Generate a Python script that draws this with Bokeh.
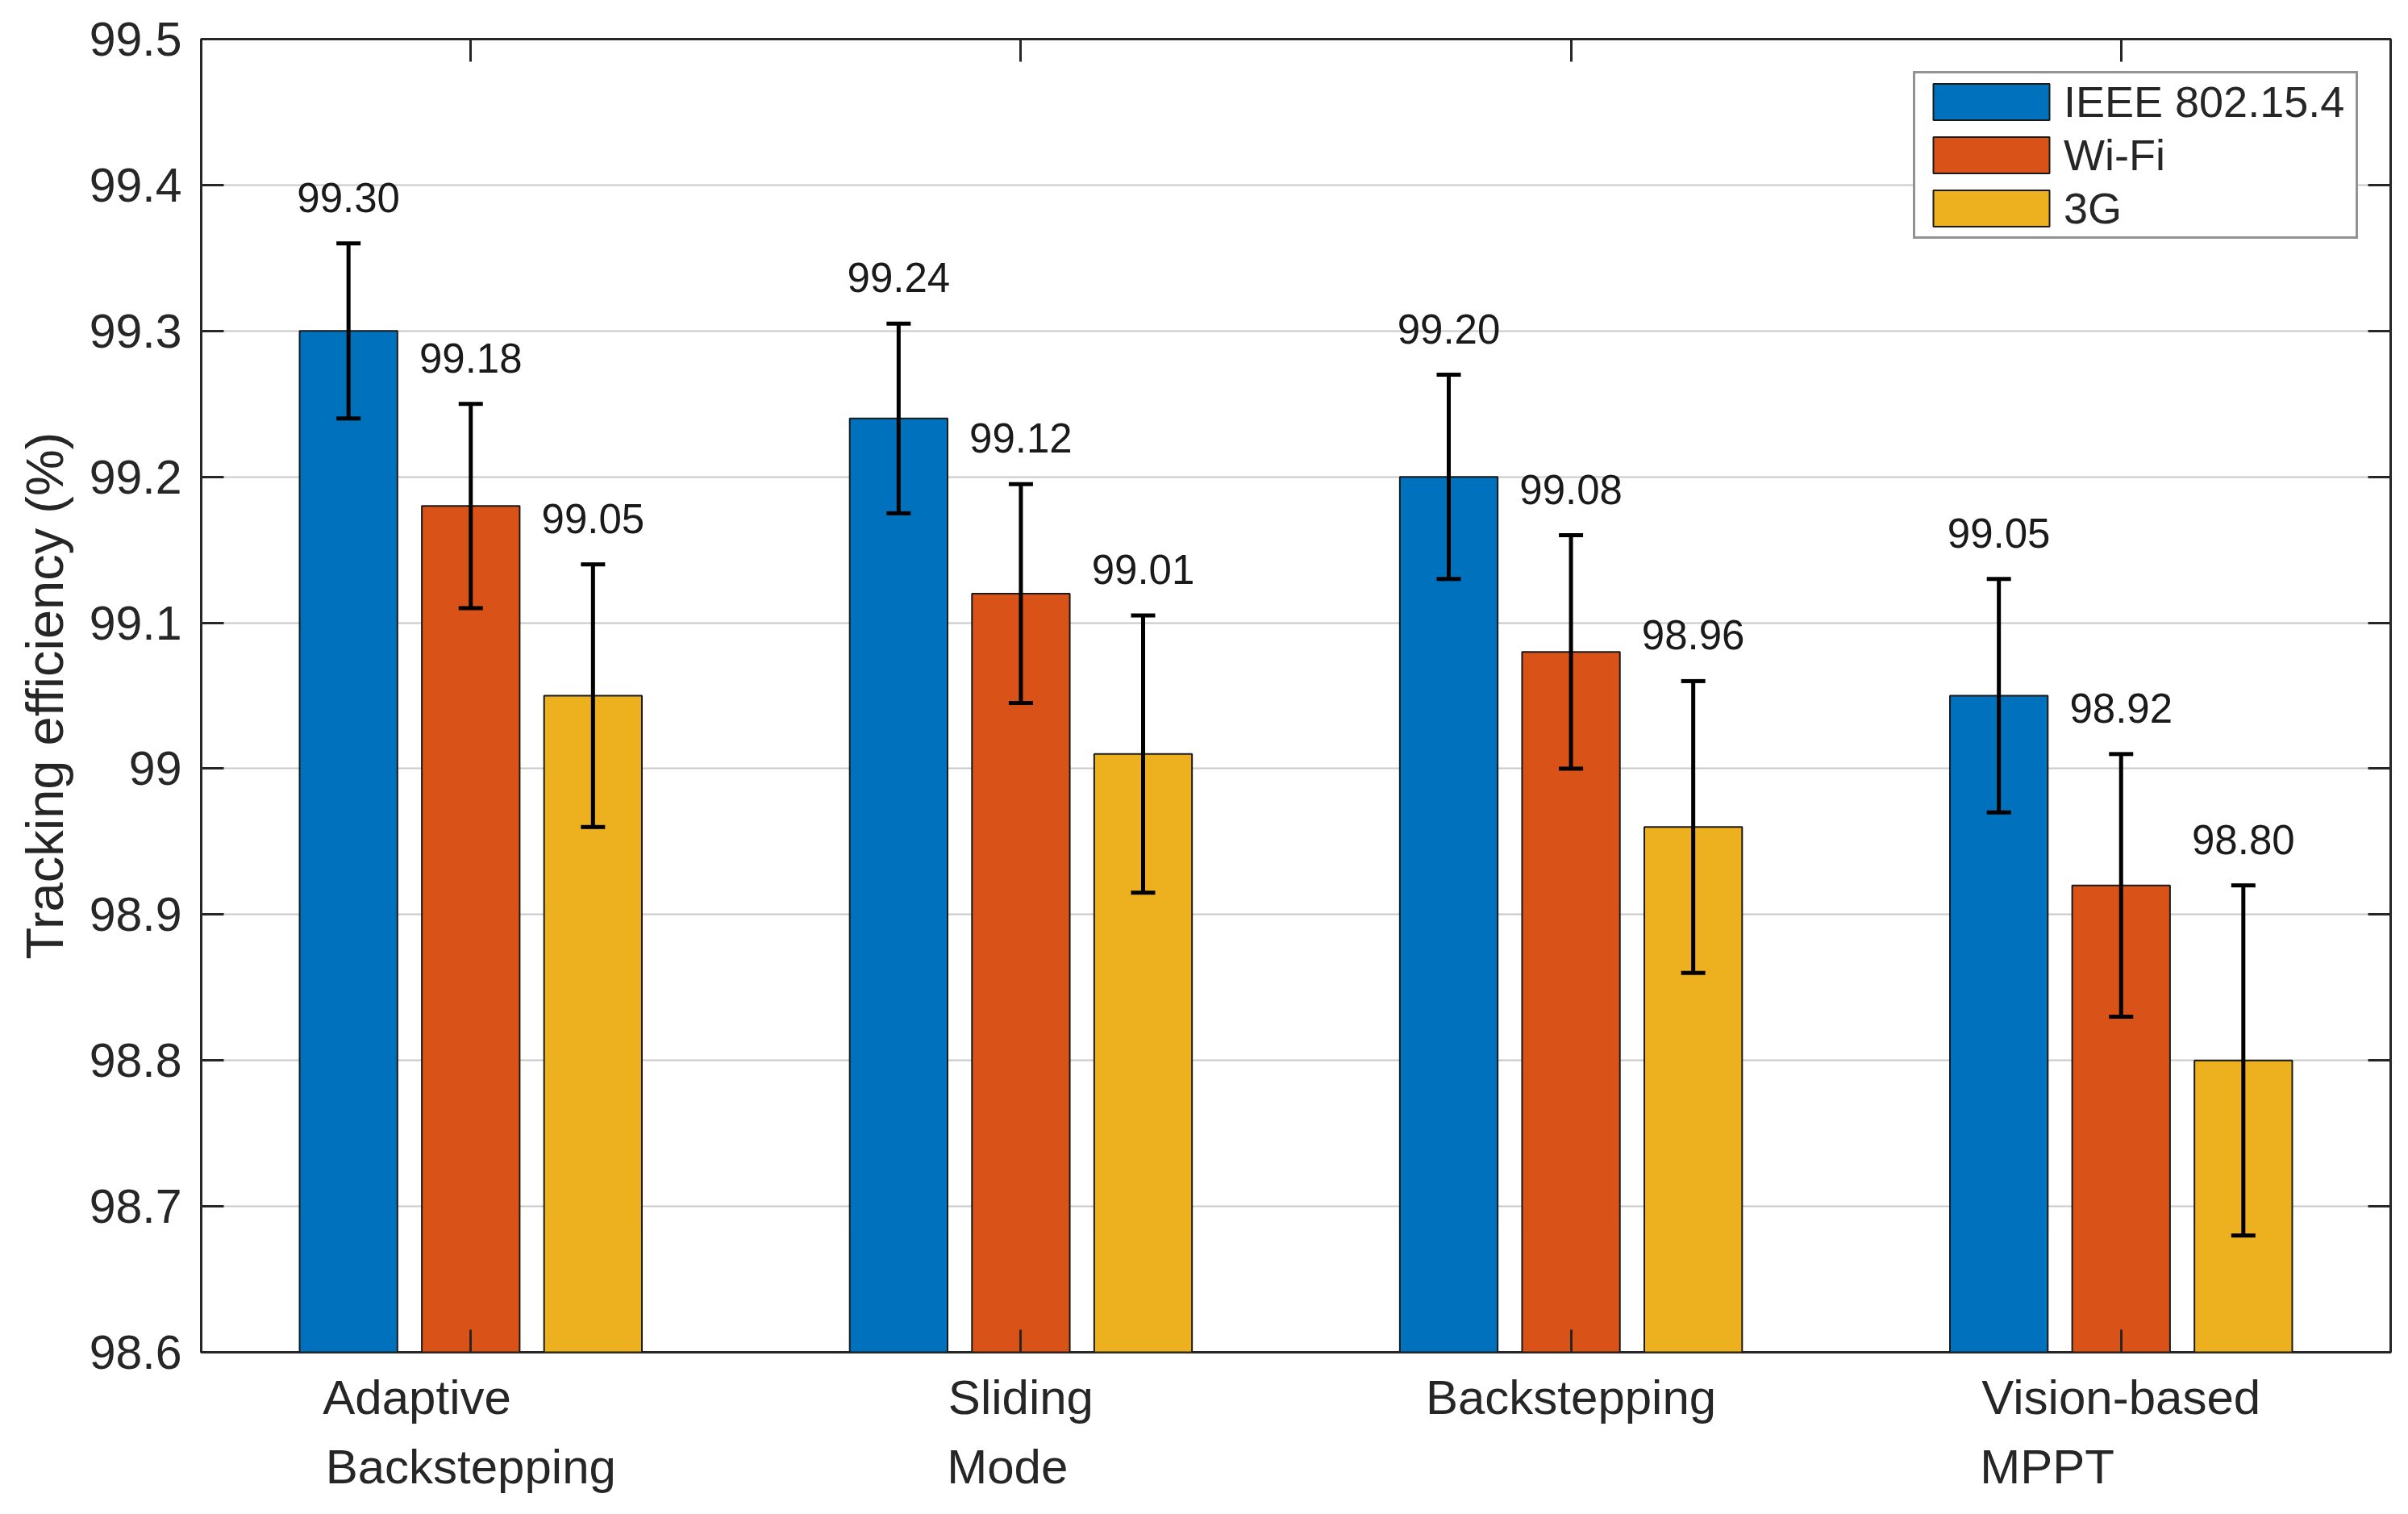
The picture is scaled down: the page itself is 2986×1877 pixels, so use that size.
import numpy as np
from bokeh.plotting import figure
from bokeh.models import (ColumnDataSource, Range1d, FixedTicker, LinearAxis,
                          Whisker, TeeHead, LabelSet)
from bokeh.core.properties import value
from bokeh.embed import file_html
from bokeh.resources import INLINE

# ---------------- data ----------------
CATEGORIES = ["Adaptive\nBackstepping", "Sliding\nMode", "Backstepping", "Vision-based\nMPPT"]
SERIES = ["IEEE 802.15.4", "Wi-Fi", "3G"]
IEEE = [99.30, 99.24, 99.20, 99.05]
WIFI = [99.18, 99.12, 99.08, 98.92]
G3 = [99.05, 99.01, 98.96, 98.80]
IEEE_ERR = [0.06, 0.065, 0.07, 0.08]
WIFI_ERR = [0.07, 0.075, 0.08, 0.09]
G3_ERR = [0.09, 0.095, 0.10, 0.12]
YTICKS = [98.6, 98.7, 98.8, 98.9, 99.0, 99.1, 99.2, 99.3, 99.4, 99.5]
YTICK_LABELS = ["98.6", "98.7", "98.8", "98.9", "99", "99.1", "99.2", "99.3", "99.4", "99.5"]

# ---------------- style ----------------
COLORS = ["#0072BD", "#D95319", "#EDB120"]
FONT = value("Liberation Sans")
AX_COLOR = "#262626"
BAR_WIDTH = 0.1778
BAR_OFFSETS = [-0.2222, 0.0, 0.2222]
# no-break spaces appended to the shorter line so that lines look left aligned
PAD_NBSP = [8, 2, 0, 11]

YMIN, YMAX = YTICKS[0], YTICKS[-1]
group_pos = np.arange(1, len(CATEGORIES) + 1)


def left_block(label, pad):
    ls = label.split("\n")
    if len(ls) < 2:
        return label
    i_short = 0 if len(ls[0]) < len(ls[1]) else 1
    ls[i_short] = ls[i_short] + "\u00a0" * pad
    return "\n".join(ls)


p = figure(width=2984, height=1875,
           x_range=Range1d(0.51, 4.49), y_range=Range1d(YMIN, YMAX),
           output_backend="svg", toolbar_location=None,
           min_border_left=249, min_border_right=20,
           min_border_top=48, min_border_bottom=199)
p.background_fill_color = "white"
p.border_fill_color = "white"
p.outline_line_color = AX_COLOR
p.outline_line_width = 3

values = [IEEE, WIFI, G3]
errors = [IEEE_ERR, WIFI_ERR, G3_ERR]

for k in range(3):
    x = group_pos + BAR_OFFSETS[k]
    v = np.array(values[k])
    e = np.array(errors[k])
    src = ColumnDataSource(dict(
        x=x, top=v, upper=v + e, lower=v - e,
        label=["%.2f" % t for t in v]))
    p.vbar(x="x", top="top", bottom=YMIN, width=BAR_WIDTH, source=src,
           fill_color=COLORS[k], line_color="#1a1a1a", line_width=2,
           legend_label=SERIES[k])
    w = Whisker(source=src, base="x", upper="upper", lower="lower",
                dimension="height", line_color="black", line_width=5,
                upper_head=TeeHead(size=30, line_color="black", line_width=5),
                lower_head=TeeHead(size=30, line_color="black", line_width=5),
                level="annotation")
    p.add_layout(w)
    labs = LabelSet(x="x", y="upper", text="label", source=src,
                    text_align="center", text_baseline="alphabetic",
                    y_offset=39, text_font=FONT, text_font_size="51px",
                    text_color="#1a1a1a")
    p.add_layout(labs)

# axes
ytick = FixedTicker(ticks=YTICKS)
xtick = FixedTicker(ticks=list(group_pos))

yax = p.yaxis[0]
yax.ticker = ytick
yax.major_label_overrides = {t: s for t, s in zip(YTICKS, YTICK_LABELS)}
yax.major_label_text_font = "Liberation Sans"
yax.major_label_text_font_size = "59px"
yax.major_label_text_color = AX_COLOR
yax.major_label_standoff = 24
yax.axis_label = "Tracking efficiency (%)"
yax.axis_label_text_font = "Liberation Sans"
yax.axis_label_text_font_size = "65px"
yax.axis_label_text_font_style = "normal"
yax.axis_label_text_color = AX_COLOR
yax.axis_label_standoff = 16

xax = p.xaxis[0]
xax.ticker = xtick
xax.major_label_overrides = {int(t): left_block(c, n)
                             for t, c, n in zip(group_pos, CATEGORIES, PAD_NBSP)}
xax.major_label_text_font = "Liberation Sans"
xax.major_label_text_font_size = "60px"
xax.major_label_text_color = AX_COLOR
xax.major_label_text_line_height = 1.29
xax.major_label_standoff = 22

for ax in (yax, xax):
    ax.axis_line_color = None
    ax.major_tick_in = 28
    ax.major_tick_out = 0
    ax.major_tick_line_color = AX_COLOR
    ax.major_tick_line_width = 3
    ax.minor_tick_line_color = None

right = LinearAxis(ticker=FixedTicker(ticks=YTICKS),
                   major_label_overrides={t: "" for t in YTICKS},
                   major_label_standoff=0, axis_line_color=None,
                   major_tick_in=28, major_tick_out=0, major_tick_line_color=AX_COLOR,
                   major_tick_line_width=3, minor_tick_line_color=None)
p.add_layout(right, "right")
top = LinearAxis(ticker=FixedTicker(ticks=list(group_pos)),
                 major_label_overrides={int(t): "" for t in group_pos},
                 major_label_standoff=0, axis_line_color=None,
                 major_tick_in=28, major_tick_out=0, major_tick_line_color=AX_COLOR,
                 major_tick_line_width=3, minor_tick_line_color=None)
p.add_layout(top, "above")

# grid
p.xgrid.visible = False
p.ygrid.ticker = ytick
p.ygrid.grid_line_color = "#c8c8c8"
p.ygrid.grid_line_width = 2

# legend
lg = p.legend[0]
lg.location = "top_right"
lg.margin = 40
lg.padding = 4
lg.spacing = 4
lg.glyph_width = 180
lg.glyph_height = 56
lg.label_standoff = -5
lg.label_width = 358
lg.label_text_font = "Liberation Sans"
lg.label_text_font_size = "54px"
lg.label_text_color = AX_COLOR
lg.border_line_color = AX_COLOR
lg.border_line_width = 3
lg.background_fill_color = "white"
lg.background_fill_alpha = 1.0

open("out.html", "w").write(file_html(p, INLINE))
